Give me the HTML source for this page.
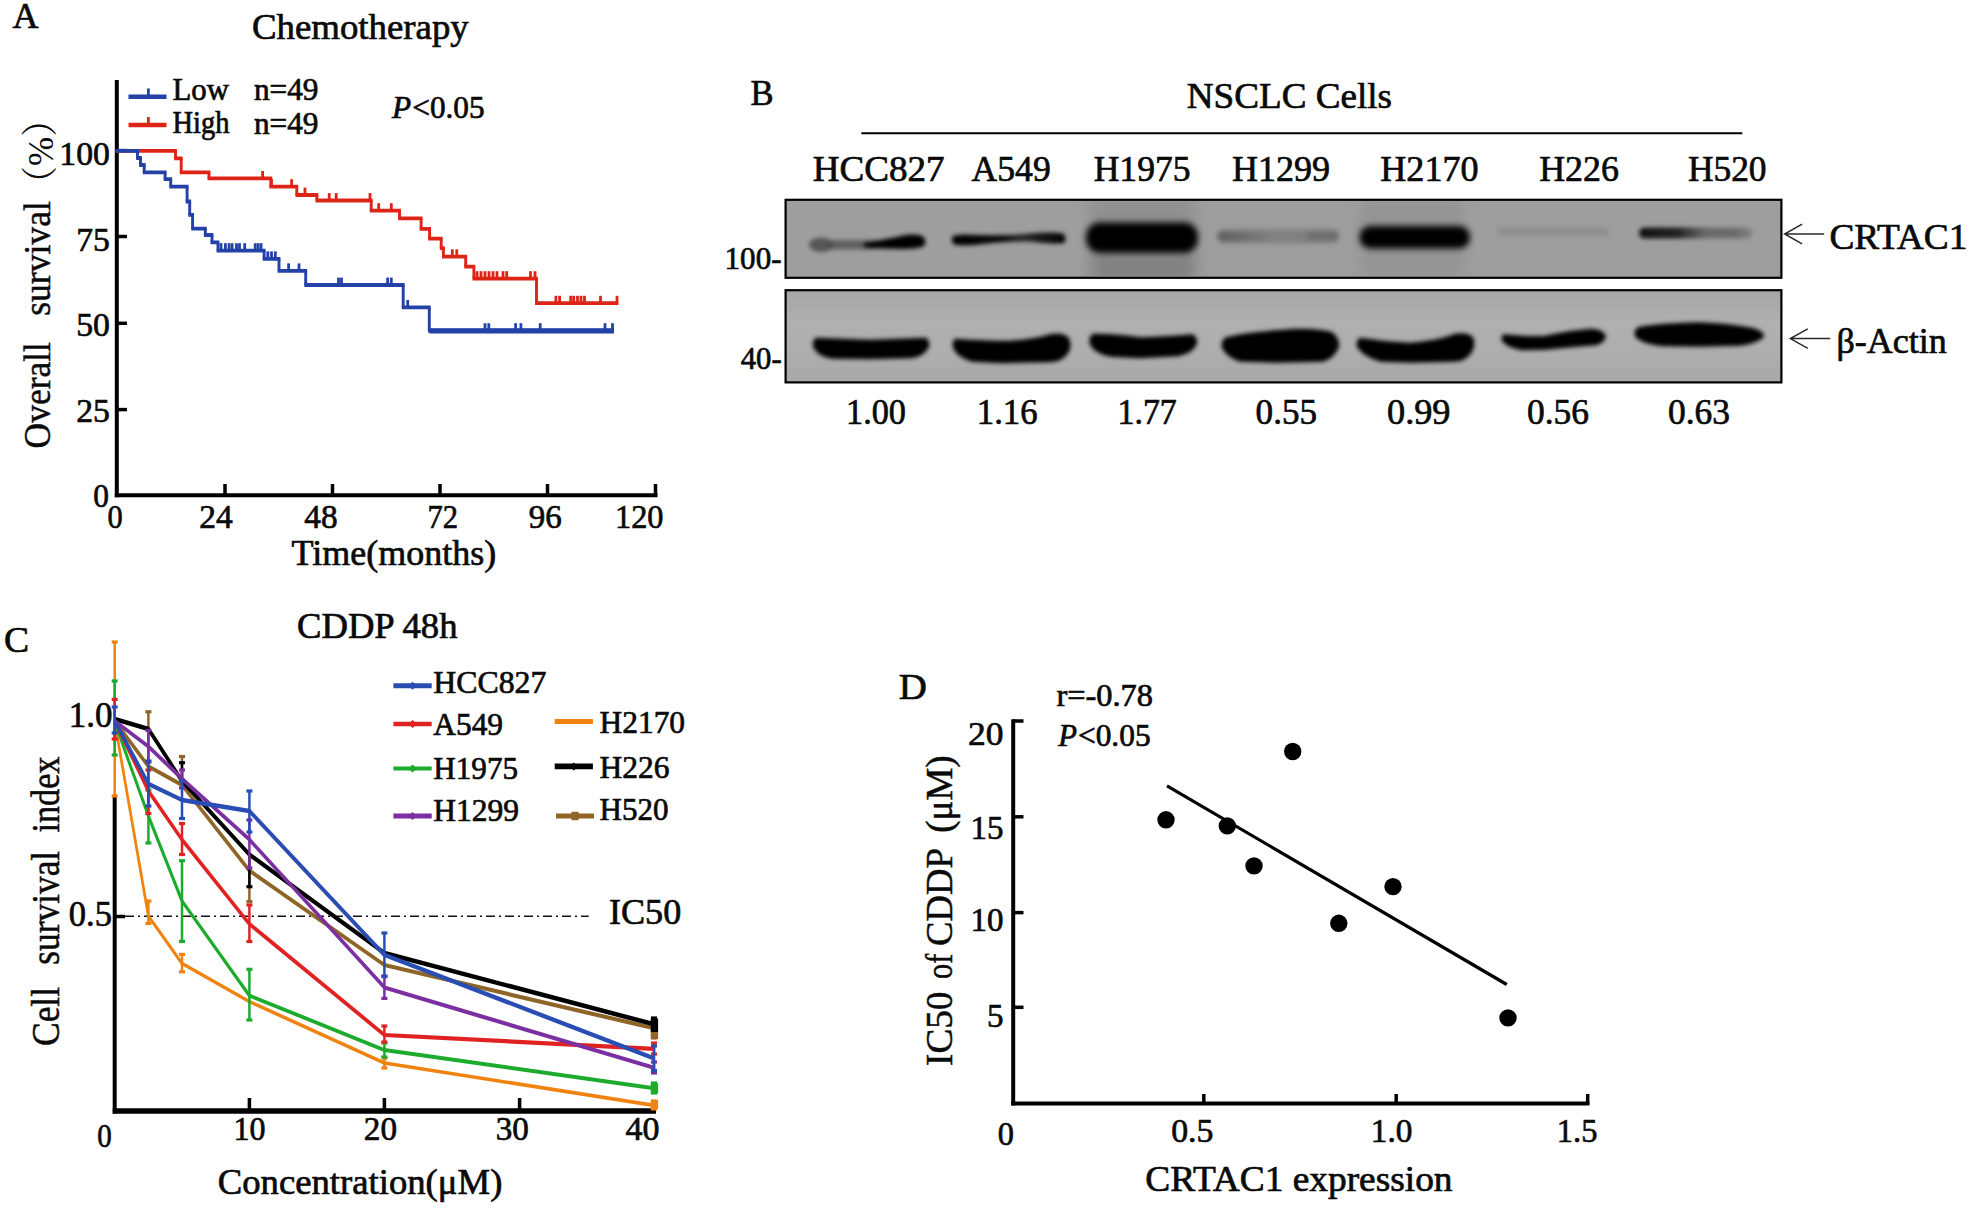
<!DOCTYPE html>
<html><head><meta charset="utf-8"><title>Figure</title>
<style>
html,body{margin:0;padding:0;background:#fff;}
svg{display:block;}
text{font-family:"Liberation Serif",serif;}
</style></head><body>
<svg width="1975" height="1209" viewBox="0 0 1975 1209">
<defs>
<filter id="b3" color-interpolation-filters="sRGB" x="-10%" y="-50%" width="120%" height="200%"><feGaussianBlur stdDeviation="2.2"/></filter>
<filter id="b35" color-interpolation-filters="sRGB" x="-10%" y="-50%" width="120%" height="200%"><feGaussianBlur stdDeviation="3.2"/></filter>
<filter id="b6" color-interpolation-filters="sRGB" x="-20%" y="-20%" width="140%" height="140%"><feGaussianBlur stdDeviation="7"/></filter>
<clipPath id="clip1"><rect x="786.7" y="200.9" width="993.6" height="75.8"/></clipPath>
<clipPath id="clip2"><rect x="786.7" y="291.3" width="993.6" height="90"/></clipPath>
<linearGradient id="gB2" x1="0" x2="0" y1="0" y2="1"><stop offset="0" stop-color="#a5a5a5"/><stop offset=".35" stop-color="#b0b0b0"/><stop offset=".75" stop-color="#adadad"/><stop offset="1" stop-color="#a8a8a8"/></linearGradient>
<linearGradient id="gHCC" x1="0" x2="1"><stop offset="0" stop-color="#4a4a4a" stop-opacity=".8"/><stop offset=".15" stop-color="#555" stop-opacity=".75"/><stop offset=".38" stop-color="#5a5a5a" stop-opacity=".6"/><stop offset=".55" stop-color="#1a1a1a" stop-opacity=".95"/><stop offset="1" stop-color="#000"/></linearGradient>
<linearGradient id="gA549" x1="0" x2="1"><stop offset="0" stop-color="#000"/><stop offset=".45" stop-color="#0a0a0a"/><stop offset=".6" stop-color="#222" stop-opacity=".95"/><stop offset="1" stop-color="#000"/></linearGradient>
<linearGradient id="gH1299" x1="0" x2="1"><stop offset="0" stop-color="#555" stop-opacity=".8"/><stop offset=".25" stop-color="#666" stop-opacity=".7"/><stop offset=".5" stop-color="#777" stop-opacity=".4"/><stop offset="1" stop-color="#6a6a6a" stop-opacity=".55"/></linearGradient>
<linearGradient id="gH520" x1="0" x2="1"><stop offset="0" stop-color="#111"/><stop offset=".35" stop-color="#222"/><stop offset=".6" stop-color="#555" stop-opacity=".7"/><stop offset=".85" stop-color="#555" stop-opacity=".7"/><stop offset="1" stop-color="#666" stop-opacity=".5"/></linearGradient>
</defs>
<rect width="1975" height="1209" fill="#fff"/>

<g id="panelA">
<text x="12.40" y="27.8" font-size="36" textLength="26.08" lengthAdjust="spacingAndGlyphs" fill="#0a0a0a" stroke="#0a0a0a" stroke-width="0.7" >A</text>
<text x="251.90" y="39.3" font-size="36.5" textLength="216.88" lengthAdjust="spacingAndGlyphs" fill="#0a0a0a" stroke="#0a0a0a" stroke-width="0.7" >Chemotherapy</text>
<line x1="116.8" y1="80" x2="116.8" y2="497.2" stroke="#000" stroke-width="4" />
<line x1="114.8" y1="495.2" x2="657.5" y2="495.2" stroke="#000" stroke-width="4" />
<line x1="116.8" y1="150.6" x2="127" y2="150.6" stroke="#000" stroke-width="3.5" />
<line x1="116.8" y1="236.5" x2="127" y2="236.5" stroke="#000" stroke-width="3.5" />
<line x1="116.8" y1="323.3" x2="127" y2="323.3" stroke="#000" stroke-width="3.5" />
<line x1="116.8" y1="409.6" x2="127" y2="409.6" stroke="#000" stroke-width="3.5" />
<line x1="225" y1="495.2" x2="225" y2="484" stroke="#000" stroke-width="3.5" />
<line x1="332.5" y1="495.2" x2="332.5" y2="484" stroke="#000" stroke-width="3.5" />
<line x1="440" y1="495.2" x2="440" y2="484" stroke="#000" stroke-width="3.5" />
<line x1="547.5" y1="495.2" x2="547.5" y2="484" stroke="#000" stroke-width="3.5" />
<line x1="655.5" y1="495.2" x2="655.5" y2="484" stroke="#000" stroke-width="3.5" />
<text x="59.30" y="164.7" font-size="34.5" textLength="50.60" lengthAdjust="spacingAndGlyphs" fill="#0a0a0a" stroke="#0a0a0a" stroke-width="0.7" >100</text>
<text x="76.20" y="251.2" font-size="34.5" textLength="33.70" lengthAdjust="spacingAndGlyphs" fill="#0a0a0a" stroke="#0a0a0a" stroke-width="0.7" >75</text>
<text x="76.20" y="335.6" font-size="34.5" textLength="33.70" lengthAdjust="spacingAndGlyphs" fill="#0a0a0a" stroke="#0a0a0a" stroke-width="0.7" >50</text>
<text x="76.20" y="421.9" font-size="34.5" textLength="33.70" lengthAdjust="spacingAndGlyphs" fill="#0a0a0a" stroke="#0a0a0a" stroke-width="0.7" >25</text>
<text x="93.30" y="506.8" font-size="34.5" textLength="15.70" lengthAdjust="spacingAndGlyphs" fill="#0a0a0a" stroke="#0a0a0a" stroke-width="0.7" >0</text>
<text x="107.60" y="528" font-size="34.5" textLength="15.20" lengthAdjust="spacingAndGlyphs" fill="#0a0a0a" stroke="#0a0a0a" stroke-width="0.7" >0</text>
<text x="199.30" y="528" font-size="34.5" textLength="33.50" lengthAdjust="spacingAndGlyphs" fill="#0a0a0a" stroke="#0a0a0a" stroke-width="0.7" >24</text>
<text x="304.30" y="528" font-size="34.5" textLength="33.30" lengthAdjust="spacingAndGlyphs" fill="#0a0a0a" stroke="#0a0a0a" stroke-width="0.7" >48</text>
<text x="427.50" y="528" font-size="34.5" textLength="30.50" lengthAdjust="spacingAndGlyphs" fill="#0a0a0a" stroke="#0a0a0a" stroke-width="0.7" >72</text>
<text x="528.80" y="528" font-size="34.5" textLength="33.00" lengthAdjust="spacingAndGlyphs" fill="#0a0a0a" stroke="#0a0a0a" stroke-width="0.7" >96</text>
<text x="615.00" y="528" font-size="34.5" textLength="48.50" lengthAdjust="spacingAndGlyphs" fill="#0a0a0a" stroke="#0a0a0a" stroke-width="0.7" >120</text>
<text x="291.60" y="565.4" font-size="36" textLength="204.54" lengthAdjust="spacingAndGlyphs" fill="#0a0a0a" stroke="#0a0a0a" stroke-width="0.7" >Time(months)</text>
<text transform="translate(50,448.5) rotate(-90) scale(1,1.07)" x="0.00" y="0" font-size="35" textLength="106.45" lengthAdjust="spacingAndGlyphs" fill="#0a0a0a" stroke="#0a0a0a" stroke-width="0.45">Overall</text>
<text transform="translate(50,315.8) rotate(-90) scale(1,1.07)" x="0.00" y="0" font-size="35" textLength="114.66" lengthAdjust="spacingAndGlyphs" fill="#0a0a0a" stroke="#0a0a0a" stroke-width="0.45">survival</text>
<text transform="translate(53,201) rotate(-90) scale(1,1.05)" font-size="35" fill="#0a0a0a" style="font-family:'Liberation Serif','Noto Serif CJK SC',serif">（%）</text>
<line x1="128.5" y1="96.7" x2="166.5" y2="96.7" stroke="#2341a6" stroke-width="4.6" />
<line x1="148.4" y1="96.7" x2="148.4" y2="88.5" stroke="#2341a6" stroke-width="2.8" />
<line x1="128.5" y1="125" x2="166.5" y2="125" stroke="#dd2416" stroke-width="4.6" />
<line x1="148.4" y1="125" x2="148.4" y2="117" stroke="#dd2416" stroke-width="2.8" />
<text x="172.50" y="99.7" font-size="31" textLength="56.44" lengthAdjust="spacingAndGlyphs" fill="#0a0a0a" stroke="#0a0a0a" stroke-width="0.7" >Low</text>
<text x="172.50" y="133.2" font-size="31" textLength="57.00" lengthAdjust="spacingAndGlyphs" fill="#0a0a0a" stroke="#0a0a0a" stroke-width="0.7" >High</text>
<text x="254.00" y="99.5" font-size="31" textLength="64.47" lengthAdjust="spacingAndGlyphs" fill="#0a0a0a" stroke="#0a0a0a" stroke-width="0.7" >n=49</text>
<text x="254.00" y="133.8" font-size="31" textLength="64.47" lengthAdjust="spacingAndGlyphs" fill="#0a0a0a" stroke="#0a0a0a" stroke-width="0.7" >n=49</text>
<text x="392.11" y="117.8" font-size="32" textLength="19.11" lengthAdjust="spacingAndGlyphs" fill="#0a0a0a" stroke="#0a0a0a" stroke-width="0.7"  font-style="italic">P</text>
<text x="412.30" y="117.8" font-size="32" textLength="72.27" lengthAdjust="spacingAndGlyphs" fill="#0a0a0a" stroke="#0a0a0a" stroke-width="0.7" >&lt;0.05</text>
<path d="M175.5,150.8 L175.5,158.3 M181.2,158.3 L181.2,172.4 M209,172.4 L209,178.4 M270.8,178.4 L270.8,186.6 M296.8,186.6 L296.8,195 M316.9,195 L316.9,200.5 M371.2,200.5 L371.2,210.6 M399.5,210.6 L399.5,218.3 M421.1,218.3 L421.1,228.8 M429.6,228.8 L429.6,238.6 M441.2,238.6 L441.2,248.2 M443.4,248.2 L443.4,256.7 M465.7,256.7 L465.7,266.7 M473.9,266.7 L473.9,278.6 M536.5,278.6 L536.5,303.2" fill="none" stroke="#dd2416" stroke-width="2.9"/>
<path d="M115.6,150.8 L176.9,150.8 M174.1,158.3 L182.6,158.3 M179.79999999999998,172.4 L210.4,172.4 M207.6,178.4 L272.2,178.4 M269.40000000000003,186.6 L298.2,186.6 M295.40000000000003,195 L318.29999999999995,195 M315.5,200.5 L372.59999999999997,200.5 M369.8,210.6 L400.9,210.6 M398.1,218.3 L422.5,218.3 M419.70000000000005,228.8 L431.0,228.8 M428.20000000000005,238.6 L442.59999999999997,238.6 M439.8,248.2 L444.79999999999995,248.2 M442.0,256.7 L467.09999999999997,256.7 M464.3,266.7 L475.29999999999995,266.7 M472.5,278.6 L537.9,278.6 M535.1,303.2 L618.4,303.2" fill="none" stroke="#dd2416" stroke-width="3.8"/>
<line x1="262.6" y1="178.4" x2="262.6" y2="171.0" stroke="#dd2416" stroke-width="2.8" />
<line x1="271.5" y1="186.6" x2="271.5" y2="179.2" stroke="#dd2416" stroke-width="2.8" />
<line x1="291.6" y1="186.6" x2="291.6" y2="179.2" stroke="#dd2416" stroke-width="2.8" />
<line x1="305" y1="195" x2="305" y2="187.6" stroke="#dd2416" stroke-width="2.8" />
<line x1="329.2" y1="200.5" x2="329.2" y2="193.1" stroke="#dd2416" stroke-width="2.8" />
<line x1="336.2" y1="200.5" x2="336.2" y2="193.1" stroke="#dd2416" stroke-width="2.8" />
<line x1="370" y1="200.5" x2="370" y2="193.1" stroke="#dd2416" stroke-width="2.8" />
<line x1="378.7" y1="210.6" x2="378.7" y2="203.2" stroke="#dd2416" stroke-width="2.8" />
<line x1="391.3" y1="210.6" x2="391.3" y2="203.2" stroke="#dd2416" stroke-width="2.8" />
<line x1="452.3" y1="256.7" x2="452.3" y2="249.29999999999998" stroke="#dd2416" stroke-width="2.8" />
<line x1="456.8" y1="256.7" x2="456.8" y2="249.29999999999998" stroke="#dd2416" stroke-width="2.8" />
<line x1="477" y1="278.6" x2="477" y2="271.20000000000005" stroke="#dd2416" stroke-width="2.8" />
<line x1="481" y1="278.6" x2="481" y2="271.20000000000005" stroke="#dd2416" stroke-width="2.8" />
<line x1="485" y1="278.6" x2="485" y2="271.20000000000005" stroke="#dd2416" stroke-width="2.8" />
<line x1="489" y1="278.6" x2="489" y2="271.20000000000005" stroke="#dd2416" stroke-width="2.8" />
<line x1="493" y1="278.6" x2="493" y2="271.20000000000005" stroke="#dd2416" stroke-width="2.8" />
<line x1="497" y1="278.6" x2="497" y2="271.20000000000005" stroke="#dd2416" stroke-width="2.8" />
<line x1="503" y1="278.6" x2="503" y2="271.20000000000005" stroke="#dd2416" stroke-width="2.8" />
<line x1="506.7" y1="278.6" x2="506.7" y2="271.20000000000005" stroke="#dd2416" stroke-width="2.8" />
<line x1="530.5" y1="278.6" x2="530.5" y2="271.20000000000005" stroke="#dd2416" stroke-width="2.8" />
<line x1="535" y1="278.6" x2="535" y2="271.20000000000005" stroke="#dd2416" stroke-width="2.8" />
<line x1="555.9" y1="303.2" x2="555.9" y2="295.8" stroke="#dd2416" stroke-width="2.8" />
<line x1="559.6" y1="303.2" x2="559.6" y2="295.8" stroke="#dd2416" stroke-width="2.8" />
<line x1="570.7" y1="303.2" x2="570.7" y2="295.8" stroke="#dd2416" stroke-width="2.8" />
<line x1="573.7" y1="303.2" x2="573.7" y2="295.8" stroke="#dd2416" stroke-width="2.8" />
<line x1="577.5" y1="303.2" x2="577.5" y2="295.8" stroke="#dd2416" stroke-width="2.8" />
<line x1="581" y1="303.2" x2="581" y2="295.8" stroke="#dd2416" stroke-width="2.8" />
<line x1="584.5" y1="303.2" x2="584.5" y2="295.8" stroke="#dd2416" stroke-width="2.8" />
<line x1="600.5" y1="303.2" x2="600.5" y2="295.8" stroke="#dd2416" stroke-width="2.8" />
<line x1="617" y1="303.2" x2="617" y2="295.8" stroke="#dd2416" stroke-width="2.8" />
<path d="M137.5,150.8 L137.5,158 M140.5,158 L140.5,165 M144.2,165 L144.2,172.4 M165.1,172.4 L165.1,179.1 M170.7,179.1 L170.7,186.6 M187.1,186.6 L187.1,201.5 M189.7,201.5 L189.7,214.9 M192.6,214.9 L192.6,228.6 M205.3,228.6 L205.3,235 M212,235 L212,242.4 M218,242.4 L218,250.6 M264.1,250.6 L264.1,258.8 M279,258.8 L279,270.8 M305.7,270.8 L305.7,285 M403.2,285 L403.2,307.4 M429.3,307.4 L429.3,330.6" fill="none" stroke="#2341a6" stroke-width="2.9"/>
<path d="M115.6,150.8 L138.9,150.8 M136.1,158 L141.9,158 M139.1,165 L145.6,165 M142.79999999999998,172.4 L166.5,172.4 M163.7,179.1 L172.1,179.1 M169.29999999999998,186.6 L188.5,186.6 M185.7,201.5 L191.1,201.5 M188.29999999999998,214.9 L194.0,214.9 M191.2,228.6 L206.70000000000002,228.6 M203.9,235 L213.4,235 M210.6,242.4 L219.4,242.4 M216.6,250.6 L265.5,250.6 M262.70000000000005,258.8 L280.4,258.8 M277.6,270.8 L307.09999999999997,270.8 M304.3,285 L404.59999999999997,285 M401.8,307.4 L430.7,307.4 M427.90000000000003,330.6 L613.9,330.6" fill="none" stroke="#2341a6" stroke-width="3.8"/>
<line x1="429.3" y1="330.8" x2="614" y2="330.8" stroke="#2341a6" stroke-width="5.2" />
<line x1="221" y1="250.6" x2="221" y2="243.2" stroke="#2341a6" stroke-width="2.8" />
<line x1="225.4" y1="250.6" x2="225.4" y2="243.2" stroke="#2341a6" stroke-width="2.8" />
<line x1="229.1" y1="250.6" x2="229.1" y2="243.2" stroke="#2341a6" stroke-width="2.8" />
<line x1="232.1" y1="250.6" x2="232.1" y2="243.2" stroke="#2341a6" stroke-width="2.8" />
<line x1="236.5" y1="250.6" x2="236.5" y2="243.2" stroke="#2341a6" stroke-width="2.8" />
<line x1="239.5" y1="250.6" x2="239.5" y2="243.2" stroke="#2341a6" stroke-width="2.8" />
<line x1="244.7" y1="250.6" x2="244.7" y2="243.2" stroke="#2341a6" stroke-width="2.8" />
<line x1="255.2" y1="250.6" x2="255.2" y2="243.2" stroke="#2341a6" stroke-width="2.8" />
<line x1="258.1" y1="250.6" x2="258.1" y2="243.2" stroke="#2341a6" stroke-width="2.8" />
<line x1="261.1" y1="250.6" x2="261.1" y2="243.2" stroke="#2341a6" stroke-width="2.8" />
<line x1="267.8" y1="258.8" x2="267.8" y2="251.4" stroke="#2341a6" stroke-width="2.8" />
<line x1="271.5" y1="258.8" x2="271.5" y2="251.4" stroke="#2341a6" stroke-width="2.8" />
<line x1="275.3" y1="258.8" x2="275.3" y2="251.4" stroke="#2341a6" stroke-width="2.8" />
<line x1="288.6" y1="270.8" x2="288.6" y2="263.40000000000003" stroke="#2341a6" stroke-width="2.8" />
<line x1="299" y1="270.8" x2="299" y2="263.40000000000003" stroke="#2341a6" stroke-width="2.8" />
<line x1="338.5" y1="285" x2="338.5" y2="277.6" stroke="#2341a6" stroke-width="2.8" />
<line x1="341.5" y1="285" x2="341.5" y2="277.6" stroke="#2341a6" stroke-width="2.8" />
<line x1="387.6" y1="285" x2="387.6" y2="277.6" stroke="#2341a6" stroke-width="2.8" />
<line x1="391.3" y1="285" x2="391.3" y2="277.6" stroke="#2341a6" stroke-width="2.8" />
<line x1="407.7" y1="307.4" x2="407.7" y2="300.0" stroke="#2341a6" stroke-width="2.8" />
<line x1="485" y1="330.6" x2="485" y2="323.20000000000005" stroke="#2341a6" stroke-width="2.8" />
<line x1="488.8" y1="330.6" x2="488.8" y2="323.20000000000005" stroke="#2341a6" stroke-width="2.8" />
<line x1="515.6" y1="330.6" x2="515.6" y2="323.20000000000005" stroke="#2341a6" stroke-width="2.8" />
<line x1="520.9" y1="330.6" x2="520.9" y2="323.20000000000005" stroke="#2341a6" stroke-width="2.8" />
<line x1="540.2" y1="330.6" x2="540.2" y2="323.20000000000005" stroke="#2341a6" stroke-width="2.8" />
<line x1="605" y1="330.6" x2="605" y2="323.20000000000005" stroke="#2341a6" stroke-width="2.8" />
<line x1="612.5" y1="330.6" x2="612.5" y2="323.20000000000005" stroke="#2341a6" stroke-width="2.8" />
</g>
<g id="panelB">
<text x="750.40" y="104.6" font-size="36" textLength="23.07" lengthAdjust="spacingAndGlyphs" fill="#0a0a0a" stroke="#0a0a0a" stroke-width="0.7" >B</text>
<text x="1186.80" y="108.2" font-size="36.7" textLength="205.16" lengthAdjust="spacingAndGlyphs" fill="#0a0a0a" stroke="#0a0a0a" stroke-width="0.7" >NSCLC Cells</text>
<line x1="861.3" y1="133.2" x2="1742.3" y2="133.2" stroke="#000" stroke-width="2" />
<text x="812.70" y="180.8" font-size="36" textLength="131.85" lengthAdjust="spacingAndGlyphs" fill="#0a0a0a" stroke="#0a0a0a" stroke-width="0.7" >HCC827</text>
<text x="971.60" y="180.8" font-size="36" textLength="79.08" lengthAdjust="spacingAndGlyphs" fill="#0a0a0a" stroke="#0a0a0a" stroke-width="0.7" >A549</text>
<text x="1093.70" y="180.8" font-size="36" textLength="96.78" lengthAdjust="spacingAndGlyphs" fill="#0a0a0a" stroke="#0a0a0a" stroke-width="0.7" >H1975</text>
<text x="1232.00" y="180.8" font-size="36" textLength="98.08" lengthAdjust="spacingAndGlyphs" fill="#0a0a0a" stroke="#0a0a0a" stroke-width="0.7" >H1299</text>
<text x="1380.30" y="180.8" font-size="36" textLength="98.18" lengthAdjust="spacingAndGlyphs" fill="#0a0a0a" stroke="#0a0a0a" stroke-width="0.7" >H2170</text>
<text x="1539.20" y="180.8" font-size="36" textLength="79.78" lengthAdjust="spacingAndGlyphs" fill="#0a0a0a" stroke="#0a0a0a" stroke-width="0.7" >H226</text>
<text x="1687.90" y="180.8" font-size="36" textLength="78.68" lengthAdjust="spacingAndGlyphs" fill="#0a0a0a" stroke="#0a0a0a" stroke-width="0.7" >H520</text>
<text x="724.60" y="268.6" font-size="31" textLength="56.94" lengthAdjust="spacingAndGlyphs" fill="#0a0a0a" stroke="#0a0a0a" stroke-width="0.7" >100-</text>
<text x="740.70" y="369" font-size="31" textLength="40.94" lengthAdjust="spacingAndGlyphs" fill="#0a0a0a" stroke="#0a0a0a" stroke-width="0.7" >40-</text>
<text x="846.00" y="423.8" font-size="36" textLength="60.00" lengthAdjust="spacingAndGlyphs" fill="#0a0a0a" stroke="#0a0a0a" stroke-width="0.7" >1.00</text>
<text x="976.80" y="423.8" font-size="36" textLength="60.80" lengthAdjust="spacingAndGlyphs" fill="#0a0a0a" stroke="#0a0a0a" stroke-width="0.7" >1.16</text>
<text x="1117.50" y="423.8" font-size="36" textLength="59.30" lengthAdjust="spacingAndGlyphs" fill="#0a0a0a" stroke="#0a0a0a" stroke-width="0.7" >1.77</text>
<text x="1255.60" y="423.8" font-size="36" textLength="61.40" lengthAdjust="spacingAndGlyphs" fill="#0a0a0a" stroke="#0a0a0a" stroke-width="0.7" >0.55</text>
<text x="1387.00" y="423.8" font-size="36" textLength="63.50" lengthAdjust="spacingAndGlyphs" fill="#0a0a0a" stroke="#0a0a0a" stroke-width="0.7" >0.99</text>
<text x="1527.00" y="423.8" font-size="36" textLength="62.00" lengthAdjust="spacingAndGlyphs" fill="#0a0a0a" stroke="#0a0a0a" stroke-width="0.7" >0.56</text>
<text x="1668.00" y="423.8" font-size="36" textLength="62.00" lengthAdjust="spacingAndGlyphs" fill="#0a0a0a" stroke="#0a0a0a" stroke-width="0.7" >0.63</text>
<rect x="785.6" y="199.8" width="995.8000000000001" height="78" fill="#9e9e9e" stroke="#000" stroke-width="2.2"/>
<rect x="785.6" y="290.2" width="995.8000000000001" height="92.2" fill="url(#gB2)" stroke="#000" stroke-width="2.2"/>
<g clip-path="url(#clip1)">
<rect x="1090" y="200" width="105" height="78" fill="#7e7e7e" opacity="0.45" filter="url(#b6)"/>
<rect x="1362" y="200" width="100" height="78" fill="#858585" opacity="0.4" filter="url(#b6)"/>
<rect x="1094" y="256" width="100" height="24" fill="#6e6e6e" opacity="0.45" filter="url(#b6)"/>
<g filter="url(#b3)">
<ellipse cx="821" cy="244.8" rx="12" ry="7.2" fill="#454545" opacity="0.8"/>
<rect x="826" y="240" width="52" height="9.4" rx="4" fill="#484848" opacity="0.72"/>
<path d="M864,243 Q888,239 904,235.2 Q917,233.2 923,236.5 Q927.5,241.5 923.5,246.5 Q915,249.3 900,249 Q880,248.6 864,247.2Z" fill="#000"/>
<path d="M953,236 Q960,233.5 975,235 Q1010,235.6 1030,233.5 Q1050,231.5 1063,233.5 Q1067.5,238 1064,243 Q1050,244.5 1030,241.5 Q1010,241.2 985,243.8 Q965,246.5 954,244.5 Q950,240 953,236Z" fill="url(#gA549)"/>
<rect x="1216" y="228" width="124" height="16" rx="8" fill="#6a6a6a" opacity="0.38"/>
<rect x="1218" y="231.5" width="120" height="10" rx="5" fill="url(#gH1299)"/>
<rect x="1306" y="231" width="32" height="10" rx="5" fill="#555" opacity="0.3"/>
<rect x="1497" y="227.5" width="112" height="8" rx="4" fill="#7d7d7d" opacity="0.45"/>
<rect x="1639" y="227.5" width="113" height="11" rx="5.5" fill="url(#gH520)"/>
</g>
<g filter="url(#b35)">
<rect x="1086" y="222.5" width="112" height="30.5" rx="14" fill="#000"/>
<rect x="1359.5" y="226" width="110.5" height="22.5" rx="11" fill="#000"/>
</g>
</g>
<g clip-path="url(#clip2)"><g filter="url(#b3)">
<path d="M816,338.5 L870,340.5 L926,338.5 Q929.5,342 928,347 Q924,356 911,357.5 L870,358.5 L832,358 Q818,356 814,347 Q812.5,342 816,338.5Z" fill="#000" stroke="#000" stroke-width="1.6" stroke-linejoin="round"/>
<path d="M955,339.5 Q985,341.5 1010,341.5 Q1035,340 1050,335 Q1062,332.5 1068,338 Q1071.5,345 1068,352 Q1062,361 1050,361.5 L1000,362.5 L972,361 Q958,357 954,348 Q952.5,343 955,339.5Z" fill="#000" stroke="#000" stroke-width="1.6" stroke-linejoin="round"/>
<path d="M1093,334.5 Q1115,334 1140,338 Q1170,337 1192,335 Q1197.5,338 1196,344 Q1192,353 1178,355.5 L1140,357.5 L1110,356 Q1095,353 1090.5,344 Q1089,338 1093,334.5Z" fill="#000" stroke="#000" stroke-width="1.6" stroke-linejoin="round"/>
<path d="M1226,338 Q1250,332 1298,329.5 Q1322,329.5 1332,333 Q1339.5,339 1338,347 Q1334,358 1322,361 L1280,362 L1240,361 Q1228,357 1223,348 Q1221,342 1226,338Z" fill="#000" stroke="#000" stroke-width="1.6" stroke-linejoin="round"/>
<path d="M1360,338.5 Q1385,342.5 1410,343.5 Q1440,341 1455,334.5 Q1468,332.5 1472.5,338 Q1475,345 1471,352 Q1466,360 1455,361 L1410,362 L1381,361 Q1364,356 1358,347 Q1356,342 1360,338.5Z" fill="#000" stroke="#000" stroke-width="1.6" stroke-linejoin="round"/>
<path d="M1504,335 Q1525,337.5 1545,336.5 Q1570,331 1592,329.5 Q1603,330.5 1605,336 Q1604.5,342 1596,344.5 Q1570,346.5 1545,349 L1522,349.5 Q1508,347 1503,341 Q1501,337 1504,335Z" fill="#000" stroke="#000" stroke-width="1.6" stroke-linejoin="round"/>
<path d="M1638,328 Q1655,324 1700,323 Q1735,324.5 1755,329.5 Q1764.5,333 1763,337 Q1756,343 1740,345 L1700,346 L1662,345.5 Q1642,343 1636,336.5 Q1634,331.5 1638,328Z" fill="#000" stroke="#000" stroke-width="1.6" stroke-linejoin="round"/>
</g></g>
<path d="M1824.2,234 L1784.6,234 M1802.1,224.2 L1784.6,234 L1802.1,243.8" fill="none" stroke="#2a2a2a" stroke-width="1.5"/>
<path d="M1830.3,338.6 L1790.3,338.6 M1807.8,328.8 L1790.3,338.6 L1807.8,348.40000000000003" fill="none" stroke="#2a2a2a" stroke-width="1.5"/>
<text x="1829.40" y="249" font-size="36" textLength="137.96" lengthAdjust="spacingAndGlyphs" fill="#0a0a0a" stroke="#0a0a0a" stroke-width="0.7" >CRTAC1</text>
<text x="1836.40" y="353.3" font-size="36" textLength="110.25" lengthAdjust="spacingAndGlyphs" fill="#0a0a0a" stroke="#0a0a0a" stroke-width="0.7" >β-Actin</text>
</g>
<g id="panelC">
<text x="4.00" y="651.7" font-size="36" textLength="25.08" lengthAdjust="spacingAndGlyphs" fill="#0a0a0a" stroke="#0a0a0a" stroke-width="0.7" >C</text>
<text x="297.00" y="638.2" font-size="36.3" textLength="160.52" lengthAdjust="spacingAndGlyphs" fill="#0a0a0a" stroke="#0a0a0a" stroke-width="0.7" >CDDP 48h</text>
<line x1="114.7" y1="796" x2="114.7" y2="1113.5" stroke="#000" stroke-width="4" />
<line x1="112.7" y1="1111" x2="656" y2="1111" stroke="#000" stroke-width="5.6" />
<line x1="114.7" y1="916.5" x2="125" y2="916.5" stroke="#000" stroke-width="3.5" />
<line x1="249.4" y1="1111" x2="249.4" y2="1098" stroke="#000" stroke-width="3.5" />
<line x1="384.4" y1="1111" x2="384.4" y2="1098" stroke="#000" stroke-width="3.5" />
<line x1="519.6" y1="1111" x2="519.6" y2="1098" stroke="#000" stroke-width="3.5" />
<line x1="654" y1="1111" x2="654" y2="1100" stroke="#000" stroke-width="3.5" />
<line x1="125" y1="916.3" x2="588.7" y2="916.3" stroke="#111" stroke-width="1.6" stroke-dasharray="9,4,2,4"/>
<text x="609.00" y="923.6" font-size="36" textLength="72.20" lengthAdjust="spacingAndGlyphs" fill="#0a0a0a" stroke="#0a0a0a" stroke-width="0.7" >IC50</text>
<text x="68.80" y="727.3" font-size="35.5" textLength="43.70" lengthAdjust="spacingAndGlyphs" fill="#0a0a0a" stroke="#0a0a0a" stroke-width="0.7" >1.0</text>
<text x="68.80" y="925.6" font-size="35.5" textLength="43.20" lengthAdjust="spacingAndGlyphs" fill="#0a0a0a" stroke="#0a0a0a" stroke-width="0.7" >0.5</text>
<text x="97.30" y="1146.7" font-size="33.5" textLength="14.50" lengthAdjust="spacingAndGlyphs" fill="#0a0a0a" stroke="#0a0a0a" stroke-width="0.7" >0</text>
<text x="233.60" y="1140.2" font-size="33.5" textLength="32.00" lengthAdjust="spacingAndGlyphs" fill="#0a0a0a" stroke="#0a0a0a" stroke-width="0.7" >10</text>
<text x="363.80" y="1140.2" font-size="33.5" textLength="33.20" lengthAdjust="spacingAndGlyphs" fill="#0a0a0a" stroke="#0a0a0a" stroke-width="0.7" >20</text>
<text x="495.80" y="1140.2" font-size="33.5" textLength="33.10" lengthAdjust="spacingAndGlyphs" fill="#0a0a0a" stroke="#0a0a0a" stroke-width="0.7" >30</text>
<text x="625.50" y="1140.2" font-size="33.5" textLength="34.00" lengthAdjust="spacingAndGlyphs" fill="#0a0a0a" stroke="#0a0a0a" stroke-width="0.7" >40</text>
<text x="217.80" y="1194.4" font-size="36.5" textLength="284.55" lengthAdjust="spacingAndGlyphs" fill="#0a0a0a" stroke="#0a0a0a" stroke-width="0.7" >Concentration(μM)</text>
<text transform="translate(59,1046) rotate(-90) scale(1,1.12)" x="0.00" y="0" font-size="35" textLength="59.05" lengthAdjust="spacingAndGlyphs" fill="#0a0a0a" stroke="#0a0a0a" stroke-width="0.45">Cell</text>
<text transform="translate(59,964.7) rotate(-90) scale(1,1.12)" x="0.00" y="0" font-size="35" textLength="113.86" lengthAdjust="spacingAndGlyphs" fill="#0a0a0a" stroke="#0a0a0a" stroke-width="0.45">survival</text>
<text transform="translate(59,832.6) rotate(-90) scale(1,1.12)" x="0.00" y="0" font-size="35" textLength="76.06" lengthAdjust="spacingAndGlyphs" fill="#0a0a0a" stroke="#0a0a0a" stroke-width="0.45">index</text>
<path d="M114.7,534.81 L148.4,678.52 L182,713.63 L249.4,741.93 L384.4,787.41 L654,818.81" transform="scale(1,1.35)" fill="none" stroke="#f0820f" stroke-width="2.7" stroke-linejoin="round"/>
<line x1="114.7" y1="642" x2="114.7" y2="796" stroke="#f0820f" stroke-width="2.5" />
<line x1="111.7" y1="642" x2="117.7" y2="642" stroke="#f0820f" stroke-width="3.2" />
<line x1="111.7" y1="796" x2="117.7" y2="796" stroke="#f0820f" stroke-width="3.2" />
<line x1="148.4" y1="901" x2="148.4" y2="923.4" stroke="#f0820f" stroke-width="2.5" />
<line x1="145.4" y1="901" x2="151.4" y2="901" stroke="#f0820f" stroke-width="3.2" />
<line x1="145.4" y1="923.4" x2="151.4" y2="923.4" stroke="#f0820f" stroke-width="3.2" />
<line x1="182" y1="954.4" x2="182" y2="971.8" stroke="#f0820f" stroke-width="2.5" />
<line x1="179" y1="954.4" x2="185" y2="954.4" stroke="#f0820f" stroke-width="3.2" />
<line x1="179" y1="971.8" x2="185" y2="971.8" stroke="#f0820f" stroke-width="3.2" />
<line x1="384.4" y1="1058" x2="384.4" y2="1068" stroke="#f0820f" stroke-width="2.5" />
<line x1="381.4" y1="1058" x2="387.4" y2="1058" stroke="#f0820f" stroke-width="3.2" />
<line x1="381.4" y1="1068" x2="387.4" y2="1068" stroke="#f0820f" stroke-width="3.2" />
<line x1="654" y1="1101" x2="654" y2="1109" stroke="#f0820f" stroke-width="2.5" />
<line x1="651" y1="1101" x2="657" y2="1101" stroke="#f0820f" stroke-width="3.2" />
<line x1="651" y1="1109" x2="657" y2="1109" stroke="#f0820f" stroke-width="3.2" />
<path d="M114.7,534.81 L148.4,604.44 L182,667.41 L249.4,737.48 L384.4,777.78 L654,806.07" transform="scale(1,1.35)" fill="none" stroke="#1cab2c" stroke-width="2.9" stroke-linejoin="round"/>
<line x1="114.7" y1="681" x2="114.7" y2="755" stroke="#1cab2c" stroke-width="2.5" />
<line x1="111.7" y1="681" x2="117.7" y2="681" stroke="#1cab2c" stroke-width="3.2" />
<line x1="111.7" y1="755" x2="117.7" y2="755" stroke="#1cab2c" stroke-width="3.2" />
<line x1="148.4" y1="790" x2="148.4" y2="843" stroke="#1cab2c" stroke-width="2.5" />
<line x1="145.4" y1="790" x2="151.4" y2="790" stroke="#1cab2c" stroke-width="3.2" />
<line x1="145.4" y1="843" x2="151.4" y2="843" stroke="#1cab2c" stroke-width="3.2" />
<line x1="182" y1="860.7" x2="182" y2="941.5" stroke="#1cab2c" stroke-width="2.5" />
<line x1="179" y1="860.7" x2="185" y2="860.7" stroke="#1cab2c" stroke-width="3.2" />
<line x1="179" y1="941.5" x2="185" y2="941.5" stroke="#1cab2c" stroke-width="3.2" />
<line x1="249.4" y1="969.3" x2="249.4" y2="1020" stroke="#1cab2c" stroke-width="2.5" />
<line x1="246.4" y1="969.3" x2="252.4" y2="969.3" stroke="#1cab2c" stroke-width="3.2" />
<line x1="246.4" y1="1020" x2="252.4" y2="1020" stroke="#1cab2c" stroke-width="3.2" />
<line x1="384.4" y1="1043" x2="384.4" y2="1057" stroke="#1cab2c" stroke-width="2.5" />
<line x1="381.4" y1="1043" x2="387.4" y2="1043" stroke="#1cab2c" stroke-width="3.2" />
<line x1="381.4" y1="1057" x2="387.4" y2="1057" stroke="#1cab2c" stroke-width="3.2" />
<line x1="654" y1="1083" x2="654" y2="1093" stroke="#1cab2c" stroke-width="2.5" />
<line x1="651" y1="1083" x2="657" y2="1083" stroke="#1cab2c" stroke-width="3.2" />
<line x1="651" y1="1093" x2="657" y2="1093" stroke="#1cab2c" stroke-width="3.2" />
<path d="M114.7,534.07 L148.4,567.70 L182,581.48 L249.4,644.89 L384.4,714.81 L654,761.70" transform="scale(1,1.35)" fill="none" stroke="#8e6527" stroke-width="3.1" stroke-linejoin="round"/>
<line x1="148.4" y1="711.8" x2="148.4" y2="766.4" stroke="#8e6527" stroke-width="2.5" />
<line x1="145.4" y1="711.8" x2="151.4" y2="711.8" stroke="#8e6527" stroke-width="3.2" />
<line x1="182" y1="756.5" x2="182" y2="785" stroke="#8e6527" stroke-width="2.5" />
<line x1="179" y1="756.5" x2="185" y2="756.5" stroke="#8e6527" stroke-width="3.2" />
<line x1="249.4" y1="870.6" x2="249.4" y2="901.6" stroke="#8e6527" stroke-width="2.5" />
<line x1="246.4" y1="901.6" x2="252.4" y2="901.6" stroke="#8e6527" stroke-width="3.2" />
<line x1="654" y1="1024" x2="654" y2="1038" stroke="#8e6527" stroke-width="2.5" />
<line x1="651" y1="1024" x2="657" y2="1024" stroke="#8e6527" stroke-width="3.2" />
<line x1="651" y1="1038" x2="657" y2="1038" stroke="#8e6527" stroke-width="3.2" />
<path d="M114.7,532.59 L148.4,540.00 L182,578.52 L249.4,632.96 L384.4,705.93 L654,758.74" transform="scale(1,1.35)" fill="none" stroke="#000" stroke-width="3.4" stroke-linejoin="round"/>
<line x1="182" y1="762.7" x2="182" y2="781" stroke="#000" stroke-width="2.5" />
<line x1="179" y1="762.7" x2="185" y2="762.7" stroke="#000" stroke-width="3.2" />
<line x1="249.4" y1="854.5" x2="249.4" y2="886.7" stroke="#000" stroke-width="2.5" />
<line x1="246.4" y1="886.7" x2="252.4" y2="886.7" stroke="#000" stroke-width="3.2" />
<line x1="654" y1="1018" x2="654" y2="1031" stroke="#000" stroke-width="2.5" />
<line x1="651" y1="1018" x2="657" y2="1018" stroke="#000" stroke-width="3.2" />
<line x1="651" y1="1031" x2="657" y2="1031" stroke="#000" stroke-width="3.2" />
<path d="M114.7,534.07 L148.4,585.93 L182,621.93 L249.4,684.44 L384.4,766.67 L654,776.89" transform="scale(1,1.35)" fill="none" stroke="#e02222" stroke-width="3.1" stroke-linejoin="round"/>
<line x1="114.7" y1="699.4" x2="114.7" y2="739" stroke="#e02222" stroke-width="2.5" />
<line x1="111.7" y1="699.4" x2="117.7" y2="699.4" stroke="#e02222" stroke-width="3.2" />
<line x1="111.7" y1="739" x2="117.7" y2="739" stroke="#e02222" stroke-width="3.2" />
<line x1="148.4" y1="770" x2="148.4" y2="813.5" stroke="#e02222" stroke-width="2.5" />
<line x1="145.4" y1="770" x2="151.4" y2="770" stroke="#e02222" stroke-width="3.2" />
<line x1="145.4" y1="813.5" x2="151.4" y2="813.5" stroke="#e02222" stroke-width="3.2" />
<line x1="182" y1="823.5" x2="182" y2="854.5" stroke="#e02222" stroke-width="2.5" />
<line x1="179" y1="823.5" x2="185" y2="823.5" stroke="#e02222" stroke-width="3.2" />
<line x1="179" y1="854.5" x2="185" y2="854.5" stroke="#e02222" stroke-width="3.2" />
<line x1="249.4" y1="905" x2="249.4" y2="941.5" stroke="#e02222" stroke-width="2.5" />
<line x1="246.4" y1="905" x2="252.4" y2="905" stroke="#e02222" stroke-width="3.2" />
<line x1="246.4" y1="941.5" x2="252.4" y2="941.5" stroke="#e02222" stroke-width="3.2" />
<line x1="384.4" y1="1026" x2="384.4" y2="1042" stroke="#e02222" stroke-width="2.5" />
<line x1="381.4" y1="1026" x2="387.4" y2="1026" stroke="#e02222" stroke-width="3.2" />
<line x1="381.4" y1="1042" x2="387.4" y2="1042" stroke="#e02222" stroke-width="3.2" />
<line x1="654" y1="1043" x2="654" y2="1054" stroke="#e02222" stroke-width="2.5" />
<line x1="651" y1="1043" x2="657" y2="1043" stroke="#e02222" stroke-width="3.2" />
<line x1="651" y1="1054" x2="657" y2="1054" stroke="#e02222" stroke-width="3.2" />
<path d="M114.7,534.07 L148.4,552.96 L182,576.89 L249.4,621.93 L384.4,731.48 L654,790.96" transform="scale(1,1.35)" fill="none" stroke="#7b2fa0" stroke-width="3.1" stroke-linejoin="round"/>
<line x1="148.4" y1="730.4" x2="148.4" y2="762" stroke="#7b2fa0" stroke-width="2.5" />
<line x1="145.4" y1="730.4" x2="151.4" y2="730.4" stroke="#7b2fa0" stroke-width="3.2" />
<line x1="145.4" y1="762" x2="151.4" y2="762" stroke="#7b2fa0" stroke-width="3.2" />
<line x1="182" y1="770" x2="182" y2="788" stroke="#7b2fa0" stroke-width="2.5" />
<line x1="179" y1="770" x2="185" y2="770" stroke="#7b2fa0" stroke-width="3.2" />
<line x1="179" y1="788" x2="185" y2="788" stroke="#7b2fa0" stroke-width="3.2" />
<line x1="249.4" y1="820" x2="249.4" y2="868" stroke="#7b2fa0" stroke-width="2.5" />
<line x1="246.4" y1="820" x2="252.4" y2="820" stroke="#7b2fa0" stroke-width="3.2" />
<line x1="246.4" y1="868" x2="252.4" y2="868" stroke="#7b2fa0" stroke-width="3.2" />
<line x1="384.4" y1="976" x2="384.4" y2="998.4" stroke="#7b2fa0" stroke-width="2.5" />
<line x1="381.4" y1="976" x2="387.4" y2="976" stroke="#7b2fa0" stroke-width="3.2" />
<line x1="381.4" y1="998.4" x2="387.4" y2="998.4" stroke="#7b2fa0" stroke-width="3.2" />
<line x1="654" y1="1062" x2="654" y2="1073" stroke="#7b2fa0" stroke-width="2.5" />
<line x1="651" y1="1062" x2="657" y2="1062" stroke="#7b2fa0" stroke-width="3.2" />
<line x1="651" y1="1073" x2="657" y2="1073" stroke="#7b2fa0" stroke-width="3.2" />
<path d="M114.7,534.07 L148.4,580.59 L182,592.59 L249.4,600.74 L384.4,707.33 L654,783.93" transform="scale(1,1.35)" fill="none" stroke="#2a4db3" stroke-width="3.3" stroke-linejoin="round"/>
<line x1="114.7" y1="707" x2="114.7" y2="733" stroke="#2a4db3" stroke-width="2.5" />
<line x1="111.7" y1="707" x2="117.7" y2="707" stroke="#2a4db3" stroke-width="3.2" />
<line x1="111.7" y1="733" x2="117.7" y2="733" stroke="#2a4db3" stroke-width="3.2" />
<line x1="148.4" y1="761" x2="148.4" y2="806" stroke="#2a4db3" stroke-width="2.5" />
<line x1="145.4" y1="761" x2="151.4" y2="761" stroke="#2a4db3" stroke-width="3.2" />
<line x1="145.4" y1="806" x2="151.4" y2="806" stroke="#2a4db3" stroke-width="3.2" />
<line x1="182" y1="781" x2="182" y2="818.5" stroke="#2a4db3" stroke-width="2.5" />
<line x1="179" y1="781" x2="185" y2="781" stroke="#2a4db3" stroke-width="3.2" />
<line x1="179" y1="818.5" x2="185" y2="818.5" stroke="#2a4db3" stroke-width="3.2" />
<line x1="249.4" y1="791" x2="249.4" y2="832" stroke="#2a4db3" stroke-width="2.5" />
<line x1="246.4" y1="791" x2="252.4" y2="791" stroke="#2a4db3" stroke-width="3.2" />
<line x1="246.4" y1="832" x2="252.4" y2="832" stroke="#2a4db3" stroke-width="3.2" />
<line x1="384.4" y1="933" x2="384.4" y2="976.6" stroke="#2a4db3" stroke-width="2.5" />
<line x1="381.4" y1="933" x2="387.4" y2="933" stroke="#2a4db3" stroke-width="3.2" />
<line x1="381.4" y1="976.6" x2="387.4" y2="976.6" stroke="#2a4db3" stroke-width="3.2" />
<line x1="654" y1="1046" x2="654" y2="1070.5" stroke="#2a4db3" stroke-width="2.5" />
<line x1="651" y1="1046" x2="657" y2="1046" stroke="#2a4db3" stroke-width="3.2" />
<line x1="651" y1="1070.5" x2="657" y2="1070.5" stroke="#2a4db3" stroke-width="3.2" />
<rect x="650.7" y="1032" width="7.4" height="7" fill="#8e6527"/>
<rect x="650.7" y="1018.5" width="7.4" height="13.5" fill="#000"/>
<rect x="650.7" y="1083" width="7.4" height="10.5" fill="#1cab2c"/>
<rect x="650.7" y="1100" width="7.4" height="9" fill="#f0820f"/>
<line x1="393.4" y1="685.8" x2="431.7" y2="685.8" stroke="#2a4db3" stroke-width="5" />
<path d="M408.34999999999997,685.8 L412.54999999999995,681.8 L416.74999999999994,685.8 L412.54999999999995,689.8Z" fill="#2a4db3"/>
<text x="433.30" y="692.8" font-size="32" textLength="113.14" lengthAdjust="spacingAndGlyphs" fill="#0a0a0a" stroke="#0a0a0a" stroke-width="0.7" >HCC827</text>
<line x1="393.4" y1="724" x2="431.7" y2="724" stroke="#e02222" stroke-width="4.5" />
<path d="M408.34999999999997,724 L412.54999999999995,720 L416.74999999999994,724 L412.54999999999995,728Z" fill="#e02222"/>
<text x="433.30" y="734.8" font-size="32" textLength="69.77" lengthAdjust="spacingAndGlyphs" fill="#0a0a0a" stroke="#0a0a0a" stroke-width="0.7" >A549</text>
<line x1="393.4" y1="768.5" x2="431.7" y2="768.5" stroke="#1cab2c" stroke-width="3.8" />
<path d="M408.34999999999997,768.5 L412.54999999999995,764.5 L416.74999999999994,768.5 L412.54999999999995,772.5Z" fill="#1cab2c"/>
<text x="433.30" y="778.5999999999999" font-size="32" textLength="84.77" lengthAdjust="spacingAndGlyphs" fill="#0a0a0a" stroke="#0a0a0a" stroke-width="0.7" >H1975</text>
<line x1="393.4" y1="816" x2="431.7" y2="816" stroke="#7b2fa0" stroke-width="4.8" />
<path d="M408.34999999999997,816 L412.54999999999995,812 L416.74999999999994,816 L412.54999999999995,820Z" fill="#7b2fa0"/>
<text x="433.30" y="821.3" font-size="32" textLength="85.77" lengthAdjust="spacingAndGlyphs" fill="#0a0a0a" stroke="#0a0a0a" stroke-width="0.7" >H1299</text>
<line x1="554.7" y1="721.5" x2="592.9" y2="721.5" stroke="#f0820f" stroke-width="4.8" />
<text x="599.50" y="733.0999999999999" font-size="32" textLength="85.57" lengthAdjust="spacingAndGlyphs" fill="#0a0a0a" stroke="#0a0a0a" stroke-width="0.7" >H2170</text>
<line x1="554.7" y1="766.4" x2="592.9" y2="766.4" stroke="#000" stroke-width="5.8" />
<path d="M569.5999999999999,766.4 L573.8,762.4 L578.0,766.4 L573.8,770.4Z" fill="#000"/>
<text x="599.50" y="777.5" font-size="32" textLength="69.97" lengthAdjust="spacingAndGlyphs" fill="#0a0a0a" stroke="#0a0a0a" stroke-width="0.7" >H226</text>
<line x1="556" y1="816" x2="594" y2="816" stroke="#8e6527" stroke-width="4.8" />
<rect x="571.4" y="811.8" width="7.2" height="8.4" fill="#8e6527"/>
<text x="599.50" y="819.5" font-size="32" textLength="68.97" lengthAdjust="spacingAndGlyphs" fill="#0a0a0a" stroke="#0a0a0a" stroke-width="0.7" >H520</text>
</g>
<g id="panelD">
<text x="898.80" y="698.8" font-size="36" textLength="28.09" lengthAdjust="spacingAndGlyphs" fill="#0a0a0a" stroke="#0a0a0a" stroke-width="0.7" >D</text>
<text x="1056.50" y="705.9" font-size="31" textLength="96.50" lengthAdjust="spacingAndGlyphs" fill="#0a0a0a" stroke="#0a0a0a" stroke-width="0.7" >r=-0.78</text>
<text x="1058.21" y="745.9" font-size="31" textLength="18.72" lengthAdjust="spacingAndGlyphs" fill="#0a0a0a" stroke="#0a0a0a" stroke-width="0.7"  font-style="italic">P</text>
<text x="1078.00" y="745.9" font-size="31" textLength="72.57" lengthAdjust="spacingAndGlyphs" fill="#0a0a0a" stroke="#0a0a0a" stroke-width="0.7" >&lt;0.05</text>
<line x1="1013.2" y1="719.2" x2="1013.2" y2="1105.5" stroke="#000" stroke-width="4" />
<line x1="1011.2" y1="1103.5" x2="1589.5" y2="1103.5" stroke="#000" stroke-width="4" />
<line x1="1013.2" y1="721" x2="1023.5" y2="721" stroke="#000" stroke-width="3.5" />
<line x1="1013.2" y1="816.8" x2="1023.5" y2="816.8" stroke="#000" stroke-width="3.5" />
<line x1="1013.2" y1="912.6" x2="1023.5" y2="912.6" stroke="#000" stroke-width="3.5" />
<line x1="1013.2" y1="1007.3" x2="1023.5" y2="1007.3" stroke="#000" stroke-width="3.5" />
<line x1="1203.8" y1="1103.5" x2="1203.8" y2="1094" stroke="#000" stroke-width="3.5" />
<line x1="1396.2" y1="1103.5" x2="1396.2" y2="1094" stroke="#000" stroke-width="3.5" />
<line x1="1587.7" y1="1103.5" x2="1587.7" y2="1094" stroke="#000" stroke-width="3.5" />
<text x="968.00" y="744.8" font-size="34" textLength="35.50" lengthAdjust="spacingAndGlyphs" fill="#0a0a0a" stroke="#0a0a0a" stroke-width="0.7" >20</text>
<text x="970.50" y="839.4" font-size="34" textLength="33.00" lengthAdjust="spacingAndGlyphs" fill="#0a0a0a" stroke="#0a0a0a" stroke-width="0.7" >15</text>
<text x="970.50" y="931.3" font-size="34" textLength="33.00" lengthAdjust="spacingAndGlyphs" fill="#0a0a0a" stroke="#0a0a0a" stroke-width="0.7" >10</text>
<text x="987.00" y="1026.8" font-size="34" textLength="16.50" lengthAdjust="spacingAndGlyphs" fill="#0a0a0a" stroke="#0a0a0a" stroke-width="0.7" >5</text>
<text x="997.80" y="1145" font-size="34" textLength="16.20" lengthAdjust="spacingAndGlyphs" fill="#0a0a0a" stroke="#0a0a0a" stroke-width="0.7" >0</text>
<text x="1171.20" y="1142" font-size="34.5" textLength="42.30" lengthAdjust="spacingAndGlyphs" fill="#0a0a0a" stroke="#0a0a0a" stroke-width="0.7" >0.5</text>
<text x="1370.80" y="1142" font-size="34.5" textLength="41.60" lengthAdjust="spacingAndGlyphs" fill="#0a0a0a" stroke="#0a0a0a" stroke-width="0.7" >1.0</text>
<text x="1556.80" y="1142" font-size="34.5" textLength="40.70" lengthAdjust="spacingAndGlyphs" fill="#0a0a0a" stroke="#0a0a0a" stroke-width="0.7" >1.5</text>
<text x="1145.30" y="1190.6" font-size="36" textLength="307.23" lengthAdjust="spacingAndGlyphs" fill="#0a0a0a" stroke="#0a0a0a" stroke-width="0.7" >CRTAC1 expression</text>
<text transform="translate(951.5,1066) rotate(-90) scale(1,1.06)" x="0.00" y="0" font-size="35" textLength="74.50" lengthAdjust="spacingAndGlyphs" fill="#0a0a0a" stroke="#0a0a0a" stroke-width="0.45">IC50</text>
<text transform="translate(951.5,978.9) rotate(-90) scale(1,1.06)" x="0.00" y="0" font-size="35" textLength="25.24" lengthAdjust="spacingAndGlyphs" fill="#0a0a0a" stroke="#0a0a0a" stroke-width="0.45">of</text>
<text transform="translate(951.5,946) rotate(-90) scale(1,1.06)" x="0.00" y="0" font-size="35" textLength="97.91" lengthAdjust="spacingAndGlyphs" fill="#0a0a0a" stroke="#0a0a0a" stroke-width="0.45">CDDP</text>
<text transform="translate(951.5,832.7) rotate(-90) scale(1,1.06)" x="0.00" y="0" font-size="35" textLength="77.35" lengthAdjust="spacingAndGlyphs" fill="#0a0a0a" stroke="#0a0a0a" stroke-width="0.45">(μM)</text>
<line x1="1167" y1="785.9" x2="1506.8" y2="984.5" stroke="#000" stroke-width="3.2" />
<circle cx="1166" cy="819.8" r="8.7" fill="#000"/>
<circle cx="1227.3" cy="825.9" r="8.7" fill="#000"/>
<circle cx="1254" cy="865.9" r="8.7" fill="#000"/>
<circle cx="1292.7" cy="751.5" r="8.7" fill="#000"/>
<circle cx="1338.8" cy="923.3" r="8.7" fill="#000"/>
<circle cx="1393" cy="886.6" r="8.7" fill="#000"/>
<circle cx="1508" cy="1017.9" r="8.7" fill="#000"/>
</g>
</svg></body></html>
